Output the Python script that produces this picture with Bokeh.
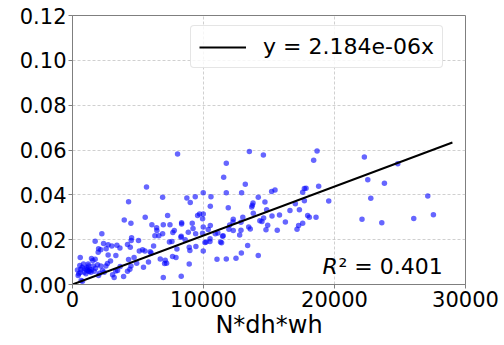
from bokeh.plotting import figure
from bokeh.models import ColumnDataSource, Legend, LegendItem, Label, FixedTicker, NumeralTickFormatter
from bokeh.embed import file_html
from bokeh.resources import INLINE

x_vals = [8020, 13500, 14570, 18670, 18410, 22280, 24830, 11740, 11540, 22540, 23810, 22770, 27120, 27550,
          26050, 23610, 22100, 19560, 18790, 18590, 18080, 17950, 17700, 17830, 17570, 17700, 17320, 17570,
          17260, 17140, 17010, 16250, 15630, 15460, 15200, 15230, 14820, 14690, 14770, 14900, 14590, 14460,
          14300, 14180, 13780, 13730, 13800, 13680, 13570, 13450, 13370, 14180, 13190, 12910, 12760, 12860,
          12860, 12480, 12890, 12250, 12270, 12270, 11890, 11740, 11740, 11940, 11460, 11380, 11500, 11300,
          11030, 10900, 10570, 10520, 10360, 10490, 10500, 10520, 9980, 9980, 9930, 9980, 9930, 9980, 10110,
          9700, 9550, 9400, 9370, 9420, 9140, 8990, 8730, 8840, 8910, 8960, 8910, 8330, 8330, 8280, 8300,
          7970, 8300, 7660, 7770, 7590, 7640, 7260, 7440, 6880, 6880, 6930, 6700, 6930, 7030, 7180, 7080,
          6420, 6290, 6590, 6440, 6190, 6060, 5930, 5650, 5550, 5350, 5420, 5530, 5040, 4280, 4460, 4510,
          4480, 4410, 4200, 4280, 4460, 4380, 4200, 3950, 3620, 3900, 3640, 3440, 3310, 3180, 3060, 3390,
          3000, 2720, 2570, 2720, 2670, 2550, 2370, 2240, 2160, 1990, 1960, 1730, 1730, 1910, 2160, 2290,
          1990, 1760, 1450, 1550, 1220, 1320, 1090, 1270, 1400, 1020, 890, 740, 590, 640, 590, 430, 480,
          760, 660, 380, 560, 840, 1200, 1450, 1660, 1580, 2060, 2420, 1100, 1250, 950, 2900, 3300, 4700,
          5100, 6000, 7400, 8600, 9200, 10200, 11100, 12000, 13000, 15800, 16600, 5800, 7900, 4900]
y_vals = [0.0582, 0.0593, 0.0578, 0.0596, 0.0554, 0.0569, 0.0539, 0.0541, 0.0478, 0.0467, 0.0452, 0.0385,
          0.0395, 0.0311, 0.0294, 0.0275, 0.0291, 0.0373, 0.0438, 0.0300, 0.0300, 0.0308, 0.0428, 0.0429,
          0.0412, 0.0374, 0.0334, 0.0273, 0.0263, 0.0247, 0.0360, 0.0279, 0.0242, 0.0422, 0.0415, 0.0306,
          0.0333, 0.0368, 0.0244, 0.0264, 0.0297, 0.0281, 0.0284, 0.0389, 0.0364, 0.0354, 0.0318, 0.0346,
          0.0248, 0.0256, 0.0174, 0.0129, 0.0447, 0.0409, 0.0221, 0.0278, 0.0242, 0.0117, 0.0140, 0.0279,
          0.0291, 0.0241, 0.0342, 0.0409, 0.0114, 0.0247, 0.0215, 0.0186, 0.0218, 0.0190, 0.0113, 0.0226,
          0.0392, 0.0349, 0.0245, 0.0192, 0.0204, 0.0263, 0.0409, 0.0315, 0.0293, 0.0256, 0.0229, 0.0150,
          0.0187, 0.0315, 0.0308, 0.0226, 0.0392, 0.0169, 0.0273, 0.0366, 0.0386, 0.0233, 0.0166, 0.0152,
          0.0092, 0.0276, 0.0270, 0.0211, 0.0215, 0.0158, 0.0037, 0.0232, 0.0241, 0.0192, 0.0125, 0.0308,
          0.0267, 0.0389, 0.0226, 0.0267, 0.0114, 0.0031, 0.0094, 0.0095, 0.0108, 0.0253, 0.0218, 0.0217,
          0.0241, 0.0172, 0.0267, 0.0146, 0.0435, 0.0300, 0.0155, 0.0077, 0.0149, 0.0196, 0.0369, 0.0273,
          0.0208, 0.0196, 0.0166, 0.0178, 0.0111, 0.0082, 0.0068, 0.0059, 0.0288, 0.0163, 0.0036, 0.0080,
          0.0062, 0.0129, 0.0031, 0.0043, 0.0175, 0.0172, 0.0177, 0.0159, 0.0132, 0.0094, 0.0082, 0.0183,
          0.0226, 0.0155, 0.0159, 0.0144, 0.0193, 0.0113, 0.0088, 0.0082, 0.0062, 0.0040, 0.0073, 0.0116,
          0.0107, 0.0083, 0.0068, 0.0065, 0.0058, 0.0055, 0.0048, 0.0055, 0.0077, 0.0120, 0.0068, 0.0053,
          0.0040, 0.0048, 0.0015, 0.0018, 0.0065, 0.0085, 0.0092, 0.0092, 0.0065, 0.0059, 0.0082, 0.0050,
          0.0055, 0.0075, 0.0060, 0.0070, 0.0105, 0.0060, 0.0120, 0.0150, 0.0140, 0.0190, 0.0200, 0.0250,
          0.0190, 0.0230, 0.0265, 0.0300, 0.0310, 0.0330, 0.0100, 0.0120, 0.0095]

slope = 2.184e-06
fit_x = [0, 29000]
fit_y = [slope * v for v in fit_x]
r2_text = "\u00b2 = 0.401"
legend_text = "y = 2.184e-06x"

x_ticks = [0, 10000, 20000, 30000]
y_ticks = [0.0, 0.02, 0.04, 0.06, 0.08, 0.10, 0.12]

FONT = "DejaVu Sans"

p = figure(output_backend="svg", toolbar_location=None,
           frame_width=393, frame_height=269,
           x_range=(0, 30000), y_range=(0, 0.12),
           min_border_left=72, min_border_right=38, min_border_top=15, min_border_bottom=56)
p.background_fill_color = "white"
p.border_fill_color = "white"
p.outline_line_color = "#7f7f7f"
p.outline_line_width = 1

src = ColumnDataSource(dict(x=x_vals, y=y_vals))
p.scatter("x", "y", source=src, size=5.5, fill_color="blue", fill_alpha=0.6, line_color=None)

line = p.line(fit_x, fit_y, line_color="black", line_width=2)

for ax in (p.xaxis[0], p.yaxis[0]):
    ax.major_label_text_font = FONT
    ax.major_label_text_font_size = "21px"
    ax.major_label_text_color = "black"
    ax.axis_line_color = "#7f7f7f"
    ax.major_tick_line_color = "#7f7f7f"
    ax.major_tick_in = 0
    ax.major_tick_out = 4
    ax.minor_tick_line_color = None
    ax.major_label_standoff = 2
    ax.axis_label_text_font = FONT
    ax.axis_label_text_font_style = "normal"
    ax.axis_label_text_font_size = "24px"
    ax.axis_label_text_color = "black"

p.xaxis.ticker = FixedTicker(ticks=x_ticks)
p.yaxis.ticker = FixedTicker(ticks=y_ticks)
p.yaxis.formatter = NumeralTickFormatter(format="0.00")
p.xaxis.formatter = NumeralTickFormatter(format="0")
p.xaxis.axis_label = "N*dh*wh"
p.xaxis.axis_label_standoff = 1

p.grid.grid_line_color = "#b0b0b0"
p.grid.grid_line_dash = "3 2"
p.grid.grid_line_alpha = 0.6
p.xgrid.ticker = FixedTicker(ticks=x_ticks)
p.ygrid.ticker = FixedTicker(ticks=y_ticks)

legend = Legend(items=[LegendItem(label=legend_text, renderers=[line])],
                location=(118, 216),
                label_text_font=FONT, label_text_font_size="22px", label_text_color="black",
                glyph_width=47, glyph_height=20, label_standoff=17,
                padding=8, margin=0,
                border_line_color="#cccccc", border_line_width=1,
                background_fill_color="white", background_fill_alpha=0.8)
try:
    legend.border_radius = 4
except Exception:
    pass
p.add_layout(legend, "center")

lab_r = Label(x=250, y=18, x_units="screen", y_units="screen", text="R",
              text_font=FONT, text_font_style="italic", text_font_size="22px",
              text_baseline="alphabetic", text_color="black")
lab_rest = Label(x=266, y=18, x_units="screen", y_units="screen", text=r2_text,
                 text_font=FONT, text_font_size="22px",
                 text_baseline="alphabetic", text_color="black")
p.add_layout(lab_r)
p.add_layout(lab_rest)

open("out.html", "w").write(file_html(p, INLINE))
